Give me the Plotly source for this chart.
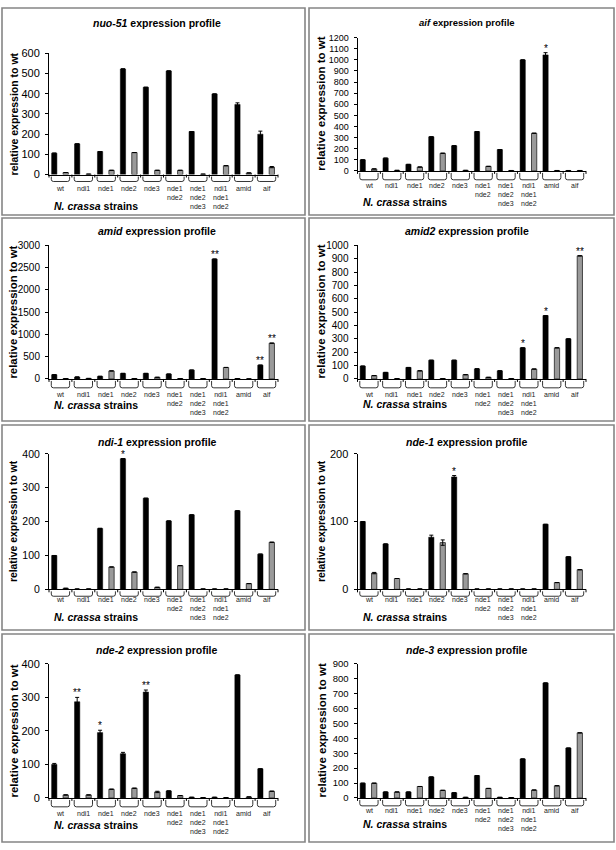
import plotly.graph_objects as go

# ---------------- data ----------------
strain_lines = [["wt"], ["ndi1"], ["nde1"], ["nde2"], ["nde3"],
                ["nde1", "nde2"], ["nde1", "nde2", "nde3"],
                ["ndi1", "nde1", "nde2"], ["amid"], ["aif"]]
genes = ["nuo-51", "aif", "amid", "amid2", "ndi-1", "nde-1", "nde-2", "nde-3"]
y_max = [600, 1200, 3000, 1000, 400, 200, 400, 900]
y_step = [100, 100, 500, 100, 100, 100, 100, 100]

nuo51_black = [106, 152, 114, 523, 432, 513, 213, 399, 347, 200]
nuo51_gray = [10, 2, 21, 109, 21, 21, 2, 44, 8, 37]
nuo51_black_err = [0, 0, 0, 0, 0, 0, 0, 0, 8, 15]
nuo51_gray_err = [0, 0, 0, 0, 0, 0, 0, 0, 0, 3]
nuo51_black_sig = ["", "", "", "", "", "", "", "", "", ""]
nuo51_gray_sig = ["", "", "", "", "", "", "", "", "", ""]

aif_black = [100, 115, 59, 307, 227, 354, 192, 999, 1044, 4]
aif_gray = [18, 5, 35, 159, 5, 41, 4, 339, 4, 4]
aif_black_err = [0, 0, 0, 0, 0, 0, 0, 0, 20, 0]
aif_gray_err = [0, 0, 0, 0, 0, 0, 0, 0, 0, 0]
aif_black_sig = ["", "", "", "", "", "", "", "", "*", ""]
aif_gray_sig = ["", "", "", "", "", "", "", "", "", ""]

amid_black = [96, 44, 59, 125, 125, 110, 199, 2690, 10, 310]
amid_gray = [10, 12, 180, 10, 37, 10, 10, 258, 0, 803]
amid_black_err = [0, 0, 0, 0, 0, 0, 0, 0, 0, 0]
amid_gray_err = [0, 0, 0, 0, 0, 0, 0, 0, 0, 0]
amid_black_sig = ["", "", "", "", "", "", "", "**", "", "**"]
amid_gray_sig = ["", "", "", "", "", "", "", "", "", "**"]

amid2_black = [96, 49, 86, 140, 140, 76, 61, 233, 474, 300]
amid2_gray = [25, 3, 61, 3, 32, 12, 3, 74, 233, 921]
amid2_black_err = [0, 0, 0, 0, 0, 0, 0, 0, 0, 0]
amid2_gray_err = [0, 0, 0, 0, 0, 0, 0, 0, 0, 0]
amid2_black_sig = ["", "", "", "", "", "", "", "*", "*", ""]
amid2_gray_sig = ["", "", "", "", "", "", "", "", "", "**"]

ndi1_black = [100, 1, 180, 386, 269, 202, 220, 1, 232, 104]
ndi1_gray = [3, 1, 66, 51, 6, 70, 1, 1, 17, 139]
ndi1_black_err = [0, 0, 0, 0, 0, 0, 0, 0, 0, 0]
ndi1_gray_err = [0, 0, 0, 0, 0, 0, 0, 0, 0, 0]
ndi1_black_sig = ["", "", "", "*", "", "", "", "", "", ""]
ndi1_gray_sig = ["", "", "", "", "", "", "", "", "", ""]

nde1_black = [100, 67, 0.5, 77, 166, 0.5, 0.5, 0.5, 96, 48]
nde1_gray = [24, 16, 0.5, 69, 23, 0.5, 0.5, 0.5, 10, 29]
nde1_black_err = [0, 0, 0, 3, 2, 0, 0, 0, 0, 0]
nde1_gray_err = [1, 0, 0, 4, 0, 0, 0, 0, 0, 0]
nde1_black_sig = ["", "", "", "", "*", "", "", "", "", ""]
nde1_gray_sig = ["", "", "", "", "", "", "", "", "", ""]

nde2_black = [100, 287, 195, 132, 316, 21, 2, 2, 367, 87]
nde2_gray = [9, 9, 26, 29, 18, 7, 1, 1, 3, 20]
nde2_black_err = [3, 13, 7, 4, 6, 0, 0, 0, 0, 0]
nde2_gray_err = [0, 0, 0, 0, 2, 0, 0, 0, 0, 0]
nde2_black_sig = ["", "**", "*", "", "**", "", "", "", "", ""]
nde2_gray_sig = ["", "", "", "", "", "", "", "", "", ""]

nde3_black = [99, 40, 40, 141, 35, 150, 4, 262, 772, 335]
nde3_gray = [99, 40, 77, 51, 4, 64, 3, 53, 82, 437]
nde3_black_err = [0, 0, 0, 0, 0, 0, 0, 0, 0, 0]
nde3_gray_err = [0, 0, 0, 0, 0, 0, 0, 0, 0, 0]
nde3_black_sig = ["", "", "", "", "", "", "", "", "", ""]
nde3_gray_sig = ["", "", "", "", "", "", "", "", "", ""]

black_series = [nuo51_black, aif_black, amid_black, amid2_black, ndi1_black, nde1_black, nde2_black, nde3_black]
gray_series = [nuo51_gray, aif_gray, amid_gray, amid2_gray, ndi1_gray, nde1_gray, nde2_gray, nde3_gray]
black_errs = [nuo51_black_err, aif_black_err, amid_black_err, amid2_black_err, ndi1_black_err, nde1_black_err, nde2_black_err, nde3_black_err]
gray_errs = [nuo51_gray_err, aif_gray_err, amid_gray_err, amid2_gray_err, ndi1_gray_err, nde1_gray_err, nde2_gray_err, nde3_gray_err]
black_sigs = [nuo51_black_sig, aif_black_sig, amid_black_sig, amid2_black_sig, ndi1_black_sig, nde1_black_sig, nde2_black_sig, nde3_black_sig]
gray_sigs = [nuo51_gray_sig, aif_gray_sig, amid_gray_sig, amid2_gray_sig, ndi1_gray_sig, nde1_gray_sig, nde2_gray_sig, nde3_gray_sig]

# ---------------- layout (pixel geometry) ----------------
W, H = 616, 850
FONT = "Liberation Sans, Arial, sans-serif"
col_x = [(49, 278), (357.5, 586)]
box_x = [(2, 305), (309, 614)]
box_y = [(2, 212), (215, 421), (425, 633), (637, 848)]
title_cx = [157, 467]
ytitle_cx = [13.5, 321.5]
strains_lx = [52, 361]
LAB_FS = 7
# per panel: top px, zero px, title y, label offset, bracket depth, tick fs, ytitle fs, title fs, strains y
spec = [
    (48, 171, 17, 15, 7, 11, 10.5, 10.5, 203),
    (32, 167.3, 17, 16, 9, 9, 11.5, 9.5, 199),
    (242.7, 378.3, 228, 17, 9, 10, 11.4, 10.5, 404.5),
    (242.7, 378.3, 228, 17, 9, 10, 11.5, 10.5, 404),
    (454.3, 591.7, 442, 11, 7, 10.5, 10.4, 10.5, 620),
    (454.3, 591.7, 442, 11, 7, 11, 10.4, 10.5, 620),
    (667.3, 803.3, 653, 17, 9, 11, 11.4, 10.5, 830.5),
    (667.3, 803.3, 653, 14, 8, 9.5, 11.5, 10.5, 830),
]


def PX(px):
    return px / W


def PY(py):
    return 1 - py / H


fig = go.Figure()
shapes, annotations = [], []
layout_axes = {}
BO, GO, BW = 0.23, 0.73, 0.23

for k, gene in enumerate(genes):
    col, row = k % 2, k // 2
    top, zero, ty, loff, brk, tfs, ytfs, titfs, sy = spec[k]
    sfx = "" if k == 0 else str(k + 1)
    xn, yn = "x" + sfx, "y" + sfx
    n = len(strain_lines)
    bx = [i + BO for i in range(n)]
    gx = [i + GO for i in range(n)]

    fig.add_trace(go.Bar(
        x=bx, y=black_series[k], width=BW, xaxis=xn, yaxis=yn, showlegend=False,
        marker=dict(color="black", line=dict(color="black", width=0.5)),
        error_y=dict(type="data", array=black_errs[k], visible=True,
                     color="black", thickness=1, width=2)))
    fig.add_trace(go.Bar(
        x=gx, y=gray_series[k], width=BW, xaxis=xn, yaxis=yn, showlegend=False,
        marker=dict(color="#9a9a9a", line=dict(color="#222222", width=0.8)),
        error_y=dict(type="data", array=gray_errs[k], visible=True,
                     color="black", thickness=1, width=2)))

    x0, x1 = col_x[col]
    layout_axes["xaxis" + sfx] = dict(
        domain=[x0 / W, x1 / W], range=[0, n], anchor=yn,
        showline=True, linecolor="black", linewidth=1, ticks="",
        showticklabels=False, showgrid=False, zeroline=False, fixedrange=True)
    layout_axes["yaxis" + sfx] = dict(
        domain=[1 - zero / H, 1 - top / H], range=[0, y_max[k]], anchor=xn,
        tickmode="linear", tick0=0, dtick=y_step[k], ticks="outside", ticklen=3,
        tickcolor="black", showline=True, linecolor="black", linewidth=1,
        showgrid=False, zeroline=False, ticklabelstandoff=3,
        tickfont=dict(size=tfs, color="black", family=FONT), fixedrange=True)

    gw = (x1 - x0) / n
    # group-boundary ticks below the axis
    for i in range(n + 1):
        xp = x0 + i * gw
        shapes.append(dict(type="line", xref="paper", yref="paper",
                           x0=PX(xp), x1=PX(xp), y0=PY(zero), y1=PY(zero + 3),
                           line=dict(color="black", width=1)))
    for i in range(n):
        a, b = x0 + (i + 0.1) * gw, x0 + (i + 0.9) * gw
        yb = zero + brk
        yt = zero + 2
        r = 2.2
        path = (f"M {PX(a)},{PY(yt)} L {PX(a)},{PY(yb - r)} "
                f"Q {PX(a)},{PY(yb)} {PX(a + r)},{PY(yb)} "
                f"L {PX(b - r)},{PY(yb)} Q {PX(b)},{PY(yb)} {PX(b)},{PY(yb - r)} "
                f"L {PX(b)},{PY(yt)}")
        shapes.append(dict(type="path", xref="paper", yref="paper", path=path,
                           line=dict(color="black", width=0.8)))
        # category labels (one block per group)
        annotations.append(dict(
            x=i + 0.5, y=0, xref=xn, yref=yn, text="<br>".join(strain_lines[i]),
            showarrow=False, xanchor="center", yanchor="top", align="center",
            yshift=-(loff - 5.5), borderpad=0,
            font=dict(size=LAB_FS, color="#222222", family=FONT)))
        # significance marks
        if black_sigs[k][i]:
            annotations.append(dict(
                x=i + BO, y=black_series[k][i] + black_errs[k][i], xref=xn, yref=yn,
                text=black_sigs[k][i], showarrow=False, xanchor="center", yanchor="bottom",
                yshift=-3, font=dict(size=10, color="black", family=FONT)))
        if gray_sigs[k][i]:
            annotations.append(dict(
                x=i + GO, y=gray_series[k][i] + gray_errs[k][i], xref=xn, yref=yn,
                text=gray_sigs[k][i], showarrow=False, xanchor="center", yanchor="bottom",
                yshift=-3, font=dict(size=10, color="black", family=FONT)))

    # panel border
    bx0, bx1 = box_x[col]
    by0, by1 = box_y[row]
    shapes.append(dict(type="rect", xref="paper", yref="paper",
                       x0=PX(bx0), x1=PX(bx1), y0=PY(by1), y1=PY(by0),
                       line=dict(color="#858585", width=1.6)))
    # panel title
    annotations.append(dict(
        x=PX(title_cx[col]), y=PY(ty), xref="paper", yref="paper",
        text=f"<b><i>{gene}</i> expression profile</b>", showarrow=False,
        xanchor="center", yanchor="middle",
        font=dict(size=titfs, color="black", family=FONT)))
    # y-axis title
    annotations.append(dict(
        x=PX(ytitle_cx[col]), y=PY((top + zero) / 2), xref="paper", yref="paper",
        text="<b>relative expression to wt</b>", showarrow=False, textangle=-90,
        xanchor="center", yanchor="middle",
        font=dict(size=ytfs, color="black", family=FONT)))
    # x-axis title
    annotations.append(dict(
        x=PX(strains_lx[col]), y=PY(sy), xref="paper", yref="paper",
        text="<b><i>N. crassa</i> strains</b>", showarrow=False,
        xanchor="left", yanchor="middle",
        font=dict(size=10.5, color="black", family=FONT)))

fig.update_layout(
    width=W, height=H, margin=dict(l=0, r=0, t=0, b=0),
    paper_bgcolor="white", plot_bgcolor="rgba(0,0,0,0)",
    barmode="overlay", showlegend=False,
    shapes=shapes, annotations=annotations, **layout_axes)

fig.write_html("out.html", config={"displayModeBar": False},
               post_script="document.body.style.margin='0px';document.body.style.overflow='hidden';")
